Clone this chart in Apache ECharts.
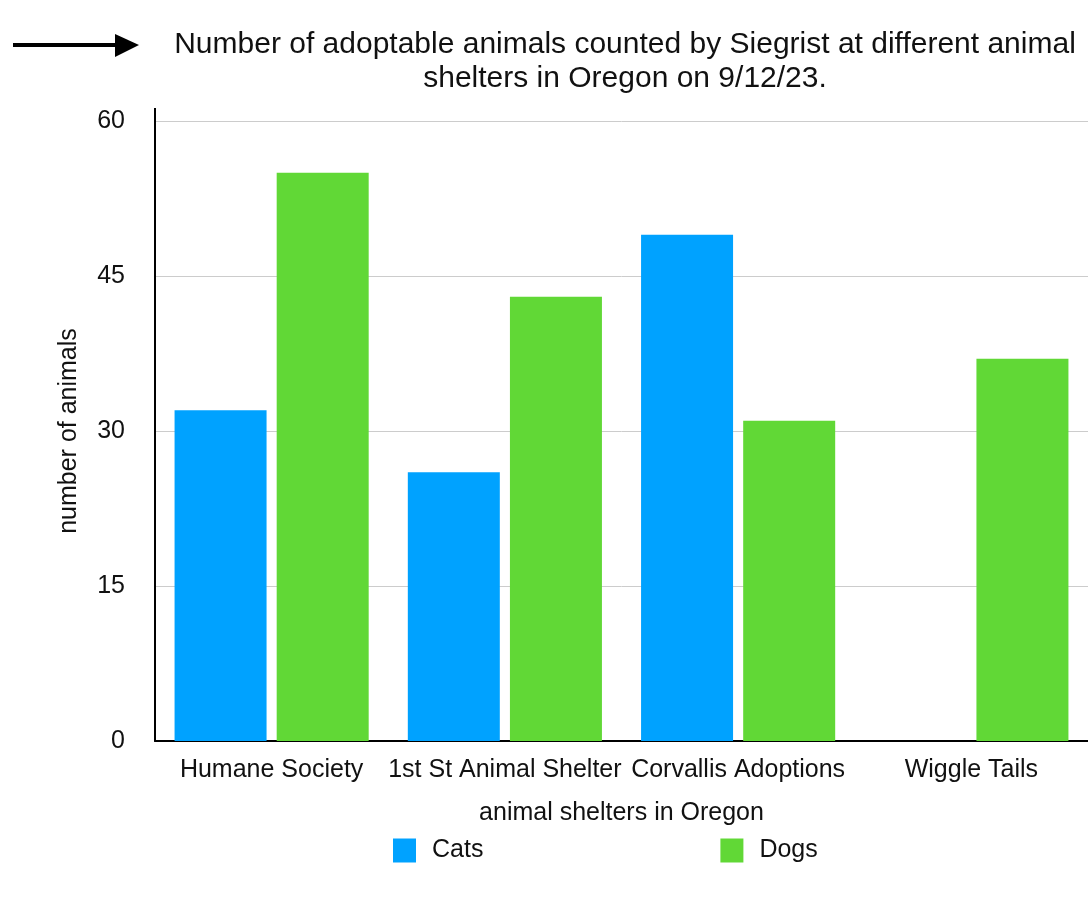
<!DOCTYPE html>
<html>
<head>
<meta charset="utf-8">
<script src="https://cdn.jsdelivr.net/npm/echarts@6/dist/echarts.min.js"></script>
<style>html,body{margin:0;padding:0;background:#fff}#c{width:1088px;height:902px}</style>
</head>
<body>
<div id="c"></div>
<script>
const categories = ['Humane Society', '1st St Animal Shelter', 'Corvallis Adoptions', 'Wiggle Tails'];
const cats = [32, 26, 49, 0];
const dogs = [55, 43, 31, 37];
const yTicks = [0, 15, 30, 45, 60];
const titleText = 'Number of adoptable animals counted by Siegrist at different animal\nshelters in Oregon on 9/12/23.';

const FONT = 'Liberation Sans, Arial, Helvetica, sans-serif';
const chart = echarts.init(document.getElementById('c'));
chart.setOption({
  backgroundColor: '#fff',
  animation: false,
  textStyle: { fontFamily: FONT, color: '#111' },
  title: {
    text: titleText,
    left: 620, top: 23, textAlign: 'center',
    textStyle: { fontFamily: FONT, fontSize: 30, fontWeight: 'normal', color: '#111', lineHeight: 34 }
  },
  graphic: [
    { type: 'line', shape: { x1: 13, y1: 45, x2: 118, y2: 45 }, style: { stroke: '#000', lineWidth: 4 } },
    { type: 'polygon', shape: { points: [[115, 34], [139, 45], [115, 57]] }, style: { fill: '#000' } },
    { type: 'line', shape: { x1: 155, y1: 108, x2: 155, y2: 122 }, style: { stroke: '#000', lineWidth: 2 } }
  ],
  legend: {
    data: ['Cats', 'Dogs'],
    left: 388, top: 833,
    icon: 'rect', itemWidth: 23, itemHeight: 24, itemGap: 237,
    textStyle: { fontFamily: FONT, fontSize: 25, color: '#111', padding: [0, 0, 0, 11] }
  },
  grid: { left: 155, right: 0, top: 121, bottom: 161, containLabel: false },
  xAxis: {
    type: 'category', data: categories,
    name: 'animal shelters in Oregon', nameLocation: 'middle', nameGap: 60,
    nameTextStyle: { fontFamily: FONT, fontSize: 25, color: '#111' },
    axisLine: { lineStyle: { color: '#000', width: 2 } },
    axisTick: { show: false },
    axisLabel: { interval: 0, fontFamily: FONT, fontSize: 25, color: '#111', margin: 17 }
  },
  yAxis: {
    type: 'value', min: yTicks[0], max: yTicks[yTicks.length - 1], interval: yTicks[1] - yTicks[0],
    name: 'number of animals', nameLocation: 'middle', nameGap: 73,
    nameTextStyle: { fontFamily: FONT, fontSize: 25, color: '#111' },
    axisLine: { show: true, lineStyle: { color: '#000', width: 2 } },
    axisTick: { show: false },
    axisLabel: { fontFamily: FONT, fontSize: 25, color: '#111', margin: 30, padding: [5, 0, 0, 0] },
    splitLine: { lineStyle: { color: '#cccccc', width: 1 } }
  },
  series: [
    { name: 'Cats', type: 'bar', data: cats, barWidth: 92, barGap: '11%', itemStyle: { color: '#00A2FF' } },
    { name: 'Dogs', type: 'bar', data: dogs, barWidth: 92, barGap: '11%', itemStyle: { color: '#61D836' } }
  ]
});
</script>
</body>
</html>
